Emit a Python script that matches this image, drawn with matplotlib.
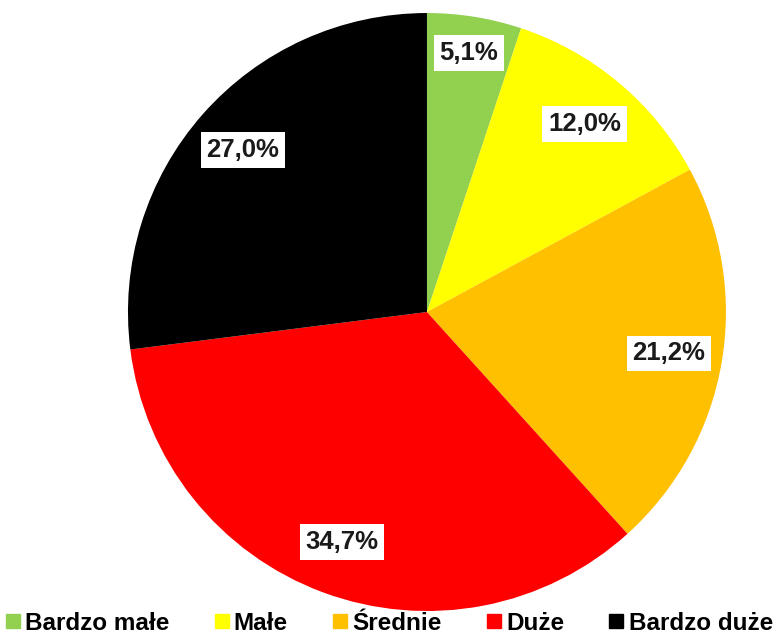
import matplotlib.pyplot as plt
from matplotlib.lines import Line2D

plt.rcParams['font.family'] = ['Liberation Sans', 'DejaVu Sans']

categories = ['Bardzo małe', 'Małe', 'Średnie', 'Duże', 'Bardzo duże']
values = [5.1, 12.0, 21.2, 34.7, 27.0]
colors = ['#92D050', '#FFFF00', '#FFC000', '#FF0000', '#000000']

fig = plt.figure(figsize=(7.77, 6.44), dpi=100)
ax = fig.add_axes([0.1647, 0.0512, 0.7696, 0.9286])

wedges, texts, autotexts = ax.pie(
    values, colors=colors, startangle=90, counterclock=False,
    autopct=lambda p: f'{p:.1f}%'.replace('.', ','), pctdistance=0.82,
    wedgeprops=dict(linewidth=0))
for t in autotexts:
    t.set_fontsize(18.5)
    t.set_fontweight('bold')
    t.set_color('#1a1a1a')
    t.set_bbox(dict(facecolor='white', edgecolor='none', pad=4))
# smallest slice label sits a bit further out
x, y = autotexts[0].get_position()
autotexts[0].set_position((x * 1.07, y * 1.07))

ax.set_xlim(-1, 1)
ax.set_ylim(-1, 1)
ax.set_aspect('equal')

handles = [Line2D([], [], marker='s', linestyle='none', markersize=10,
                  markerfacecolor=c, markeredgecolor=c) for c in colors]
fig.legend(handles, categories, loc='lower center', ncol=5, frameon=False,
           bbox_to_anchor=(0.5, -0.02), handletextpad=0.15, columnspacing=1.8,
           handlelength=0.7,
           prop=dict(family='Liberation Sans', weight='bold', size=17.5))

fig.savefig('out.png', dpi=100)
